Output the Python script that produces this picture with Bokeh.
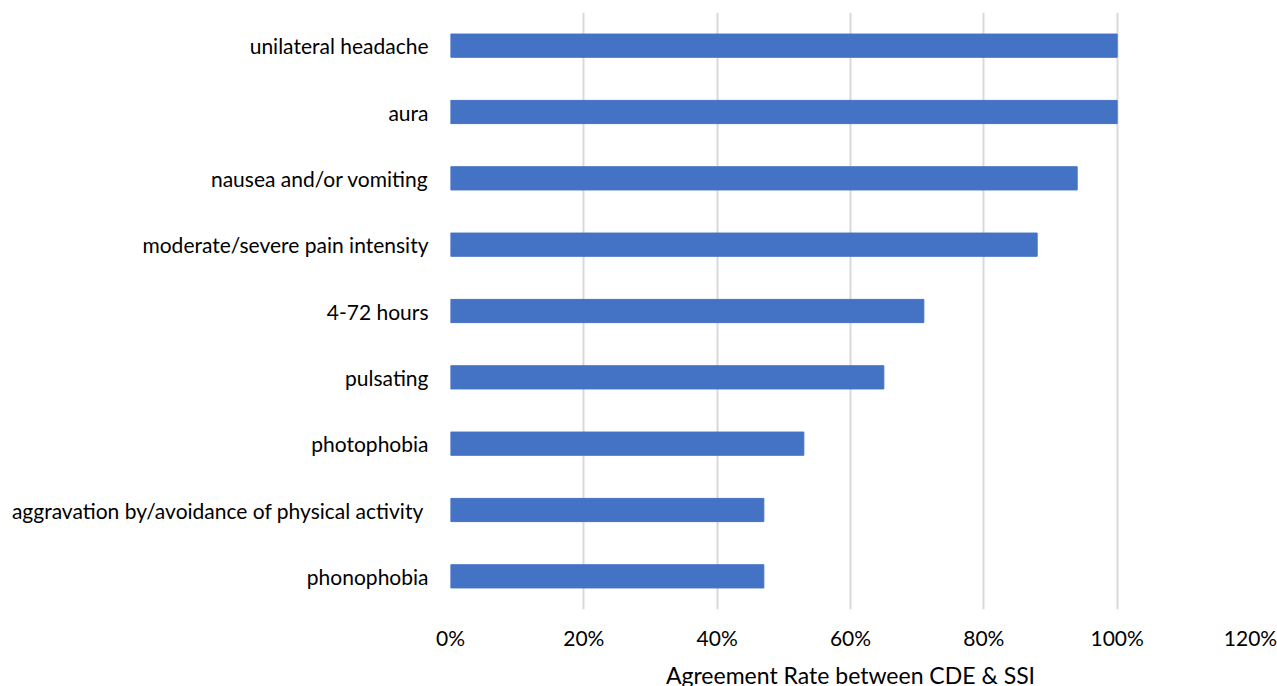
from bokeh.plotting import figure
from bokeh.models import FactorRange, Range1d, NumeralTickFormatter, FixedTicker
from bokeh.embed import file_html
from bokeh.resources import INLINE

categories = [
    "unilateral headache",
    "aura",
    "nausea and/or vomiting",
    "moderate/severe pain intensity",
    "4-72 hours",
    "pulsating",
    "photophobia",
    "aggravation by/avoidance of physical activity\u00a0",
    "phonophobia",
]
values = [1.00, 1.00, 0.94, 0.88, 0.71, 0.65, 0.53, 0.47, 0.47]
tick_values = [0, 0.2, 0.4, 0.6, 0.8, 1.0, 1.2]

FONT = "Lato"

p = figure(
    width=1277, height=686,
    y_range=FactorRange(factors=list(reversed(categories))),
    x_range=Range1d(0, 1.2),
    output_backend="svg", toolbar_location=None,
    min_border_left=450, min_border_right=27, min_border_top=12, min_border_bottom=77,
)
p.frame_width = 800
p.frame_height = 597

p.hbar(y=categories, right=values, left=0, height=0.35, color="#4472C4")

p.outline_line_color = None
p.ygrid.grid_line_color = None
p.xgrid.grid_line_color = "#d9d9d9"
p.xgrid.grid_line_width = 2
p.xaxis.ticker = FixedTicker(ticks=tick_values)
p.xaxis.formatter = NumeralTickFormatter(format="0%")

for ax in (p.xaxis, p.yaxis):
    ax.axis_line_color = None
    ax.major_tick_line_color = None
    ax.minor_tick_line_color = None
    ax.major_label_text_font = FONT
    ax.major_label_text_color = "#000000"

p.yaxis.major_label_text_font_size = "21px"
p.xaxis.major_label_text_font_size = "21px"
p.xaxis.major_label_standoff = 9
p.yaxis.major_label_standoff = 16
p.xaxis.axis_label = "Agreement Rate between CDE & SSI"
p.xaxis.axis_label_text_font = FONT
p.xaxis.axis_label_text_font_size = "23px"
p.xaxis.axis_label_text_font_style = "normal"
p.xaxis.axis_label_text_color = "#000000"
p.xaxis.axis_label_standoff = 8

open("out.html", "w").write(file_html(p, INLINE))
